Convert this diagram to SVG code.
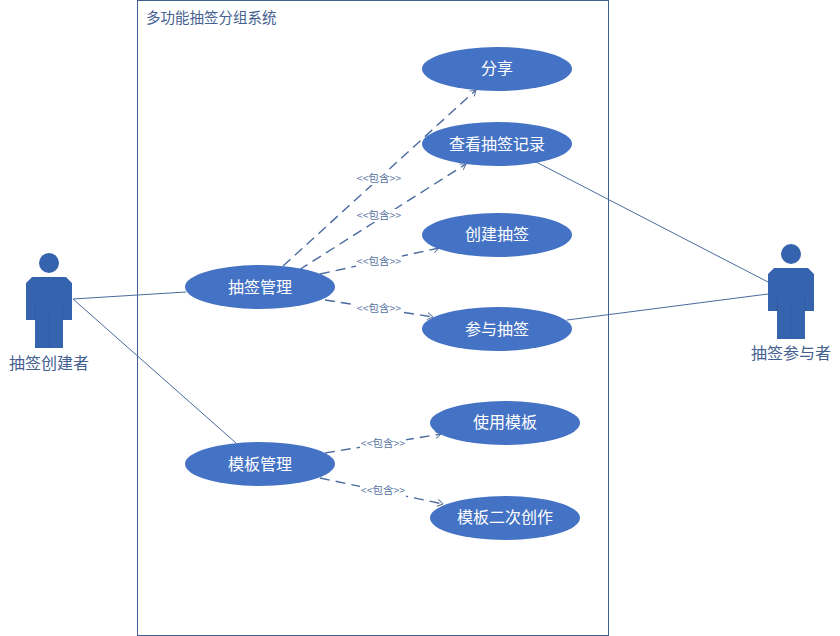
<svg xmlns="http://www.w3.org/2000/svg" width="840" height="636" viewBox="0 0 840 636">
<style>
text{font-family:"Noto Sans CJK SC","Liberation Sans",sans-serif}
.uc ellipse{fill:#4472c4}
.uc text{fill:#fff;font-size:16px;text-anchor:middle}
.lbl{fill:#44608f;font-size:16px;text-anchor:middle}
.inc{fill:#56729f;font-size:10.500px;text-anchor:middle}
.bg{fill:#fff}
.assoc{stroke:#4a6a9e;stroke-width:1;fill:none}
.dep{stroke:#4a6a9e;stroke-width:1.400;fill:none;stroke-dasharray:10 6}
.ah{stroke:#5a7099;stroke-width:1;fill:none}
.body{fill:#3563ad}
.seam{stroke:#2f5a9f;stroke-width:.7;fill:none}
</style>
<defs>
<marker id="o" viewBox="0 0 8 8" refX="7.500" refY="4" markerWidth="8" markerHeight="8" markerUnits="userSpaceOnUse" orient="auto"><path class="ah" d="M2 .5L7.500 4L2 7.500"/></marker>
<g id="actor">
<circle cx="23" cy="10" r="10" class="body"/>
<path class="body" d="M6 24H40L46 30V67H37V95H9V67H0V30Z"/>
<path class="seam" d="M9 50V67M37 50V67M23 60V95"/>
</g>
</defs>
<rect id="boundary" x="137.500" y="0.500" width="471" height="635" fill="#fff" stroke="#3f5f95"/>
<text x="146" y="23" class="lbl" style="text-anchor:start;font-size:14.500px">多功能抽签分组系统</text>
<g id="connectors">
<path class="assoc" d="M73 299L186 292M73 299L236 443M536 162L768 282M567 320L768 294"/>
<path class="dep" marker-end="url(#o)" d="M283 266L476 90"/>
<path class="dep" marker-end="url(#o)" d="M299 270L466 164"/>
<path class="dep" marker-end="url(#o)" d="M320 274L439 248"/>
<path class="dep" marker-end="url(#o)" d="M325 300L433 317"/>
<path class="dep" marker-end="url(#o)" d="M325 453L441 434"/>
<path class="dep" marker-end="url(#o)" d="M320 478L443 504"/>
<g>
<rect class="bg" x="356" y="172" width="46" height="13"/><text class="inc" x="379" y="182">&lt;&lt;包含&gt;&gt;</text>
<rect class="bg" x="356" y="209" width="46" height="13"/><text class="inc" x="379" y="219">&lt;&lt;包含&gt;&gt;</text>
<rect class="bg" x="356" y="255" width="46" height="13"/><text class="inc" x="379" y="265">&lt;&lt;包含&gt;&gt;</text>
<rect class="bg" x="356" y="302" width="46" height="13"/><text class="inc" x="379" y="312">&lt;&lt;包含&gt;&gt;</text>
<rect class="bg" x="360" y="437" width="46" height="13"/><text class="inc" x="383" y="447">&lt;&lt;包含&gt;&gt;</text>
<rect class="bg" x="360" y="484" width="46" height="13"/><text class="inc" x="383" y="494">&lt;&lt;包含&gt;&gt;</text>
</g>
</g>
<g id="actor-creator"><use href="#actor" x="26" y="253"/><text class="lbl" x="49" y="369">抽签创建者</text></g>
<g id="actor-participant"><use href="#actor" x="768" y="244"/><text class="lbl" x="791" y="359">抽签参与者</text></g>
<g id="uc-share" class="uc"><ellipse cx="497" cy="69" rx="75" ry="22"/><text x="497" y="74">分享</text></g>
<g id="uc-records" class="uc"><ellipse cx="497" cy="144" rx="75" ry="22"/><text x="497" y="150">查看抽签记录</text></g>
<g id="uc-create" class="uc"><ellipse cx="497" cy="235" rx="75" ry="22"/><text x="497" y="240">创建抽签</text></g>
<g id="uc-join" class="uc"><ellipse cx="497" cy="329" rx="75" ry="22"/><text x="497" y="335">参与抽签</text></g>
<g id="uc-manage" class="uc"><ellipse cx="260" cy="287" rx="75" ry="22"/><text x="260" y="293">抽签管理</text></g>
<g id="uc-template" class="uc"><ellipse cx="260" cy="464" rx="75" ry="22"/><text x="260" y="470">模板管理</text></g>
<g id="uc-use" class="uc"><ellipse cx="505" cy="423" rx="75" ry="22"/><text x="505" y="428">使用模板</text></g>
<g id="uc-recreate" class="uc"><ellipse cx="505" cy="518" rx="75" ry="22"/><text x="505" y="523">模板二次创作</text></g>
</svg>
